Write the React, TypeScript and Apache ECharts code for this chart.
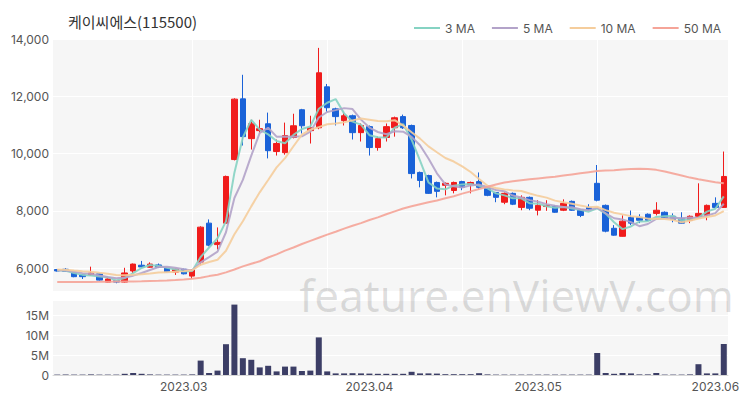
import React, { useEffect, useRef } from 'react';
import * as echarts from 'echarts';

const chartTitle = '케이씨에스(115500)';
const watermark = 'feature.enViewV.com';

// trading days per month (2023)
const febDays = [8, 9, 10, 13, 14, 15, 16, 17, 20, 21, 22, 23, 24, 27, 28];
const marDays = [2, 3, 6, 7, 8, 9, 10, 13, 14, 15, 16, 17, 20, 21, 22, 23, 24, 27, 28, 29, 30, 31];
const aprDays = [3, 4, 5, 6, 7, 10, 11, 12, 13, 14, 17, 18, 19, 20, 21, 24, 25, 26, 27, 28];
const mayDays = [2, 3, 4, 8, 9, 10, 11, 12, 15, 16, 17, 18, 19, 22, 23, 24, 25, 26, 29, 30, 31];
const junDays = [1, 2];

const opens = [5950, 5960, 5830, 5760, 5760, 5800, 5510, 5560, 5510, 5900,
  6100, 6030, 6110, 6000, 5860, 5960, 5720, 6210, 7570, 6820,
  7570, 9790, 11910, 10520, 10800, 11040, 10070, 10030, 10560, 11530,
  10800, 10900, 12330, 11560, 11150, 11320, 10730, 10940, 10210, 10560,
  10900, 11290, 10980, 9340, 9230, 8990, 8890, 8710, 9020, 8920,
  9020, 8780, 8640, 8300, 8610, 8120, 8470, 8020, 8150, 8160,
  8020, 8330, 8020, 8120, 8960, 8190, 7390, 7110, 7770, 7770,
  7880, 7910, 7950, 7810, 7740, 7670, 7810, 7840, 8260, 8120];
const closes = [5900, 5890, 5700, 5700, 5830, 5580, 5620, 5510, 5830, 6140,
  6040, 6140, 6030, 5870, 5960, 5800, 5930, 7430, 6800, 6900,
  9200, 11900, 10590, 11040, 10870, 10100, 10350, 10630, 10970, 10970,
  10900, 12820, 11600, 11290, 11320, 10730, 10980, 10210, 10520, 10940,
  11250, 10900, 9300, 9060, 8610, 8680, 8960, 8990, 8820, 8990,
  8820, 8540, 8470, 8610, 8230, 8470, 8090, 8190, 8190, 7950,
  8260, 8020, 7840, 8050, 8370, 7290, 7150, 7640, 7570, 7670,
  7670, 8020, 7740, 7700, 7570, 7810, 7910, 8190, 8120, 9200];
const lows = [5880, 5870, 5680, 5620, 5740, 5560, 5500, 5470, 5490, 5830,
  6020, 6010, 6000, 5850, 5760, 5780, 5620, 6100, 6760, 6650,
  7550, 9760, 10280, 10140, 10700, 9830, 9930, 9960, 10530, 10700,
  10350, 10850, 11460, 10980, 10980, 10490, 10420, 9930, 10100, 10420,
  10590, 10860, 9130, 8820, 8590, 8470, 8540, 8610, 8720, 8610,
  8750, 8510, 8300, 8230, 8200, 8020, 8020, 7840, 8000, 7930,
  7990, 8000, 7780, 8020, 8330, 7250, 7130, 7100, 7500, 7570,
  7650, 7840, 7720, 7600, 7550, 7570, 7780, 7670, 8100, 8100];
const highs = [5970, 6000, 5850, 5780, 6050, 5820, 5640, 5570, 6010, 6160,
  6250, 6200, 6160, 6020, 5980, 5980, 5950, 7460, 7700, 7420,
  9230, 11930, 12750, 11180, 11180, 11430, 10490, 11080, 11390, 11560,
  11320, 13690, 12430, 11600, 11430, 11360, 11050, 10980, 10590, 11050,
  11290, 11360, 11010, 9370, 9260, 9020, 8990, 9020, 9050, 9020,
  9340, 8800, 8660, 8640, 8640, 8540, 8500, 8370, 8370, 8190,
  8400, 8360, 8050, 8230, 9600, 8220, 7500, 7840, 8010, 7880,
  7910, 8300, 7980, 7910, 7950, 7840, 8960, 8220, 8470, 10070];
// volume in millions of shares
const volumesM = [0.1, 0.1, 0.1, 0.1, 0.15, 0.1, 0.1, 0.1, 0.3, 0.5,
  0.3, 0.15, 0.1, 0.1, 0.1, 0.1, 0.15, 3.6, 0.5, 1.1,
  7.7, 17.6, 4.2, 3.8, 1.9, 2.3, 0.9, 2.1, 2.1, 1.0,
  1.1, 9.4, 0.9, 0.4, 0.4, 0.45, 0.4, 0.35, 0.3, 0.3,
  0.3, 0.3, 0.8, 0.4, 0.4, 0.35, 0.2, 0.2, 0.2, 0.2,
  0.45, 0.15, 0.1, 0.1, 0.1, 0.1, 0.1, 0.1, 0.1, 0.1,
  0.1, 0.1, 0.1, 0.1, 5.5, 0.5, 0.3, 0.5, 0.4, 0.15,
  0.15, 0.5, 0.1, 0.1, 0.1, 0.15, 2.7, 0.4, 0.4, 7.75];
// 50-day moving average
const ma50 = [5510, 5512, 5514, 5516, 5518, 5520, 5524, 5528, 5532, 5536,
  5540, 5548, 5556, 5565, 5580, 5600, 5630, 5660, 5720, 5770,
  5850, 5950, 6060, 6150, 6240, 6370, 6480, 6610, 6720, 6840,
  6950, 7060, 7170, 7270, 7380, 7480, 7570, 7680, 7770, 7880,
  7980, 8080, 8160, 8230, 8300, 8360, 8440, 8510, 8600, 8680,
  8760, 8840, 8920, 8990, 9030, 9070, 9100, 9130, 9160, 9190,
  9230, 9270, 9310, 9350, 9390, 9410, 9420, 9440, 9460, 9470,
  9460, 9430, 9370, 9300, 9230, 9160, 9100, 9050, 9000, 8960];
// closes before the visible window (estimated), used for short moving averages
const priorCloses = [6000, 5980, 5950, 5990, 5960, 5940, 5920, 5950, 5930];

const priceGrid = [6000, 8000, 10000, 12000, 14000];
const volumeTicks = [0, 5, 10, 15];
const verticalGridIdx = [16, 32, 48, 64];

const maColors: Record<string, string> = {
  '3 MA': '#86d3c3',
  '5 MA': '#b3a3c9',
  '10 MA': '#f5cd9c',
  '50 MA': '#f5a498',
};

const UP = '#f01c1c';
const DOWN = '#1a62d8';

function buildDates() {
  const months: [number, number[]][] = [[2, febDays], [3, marDays], [4, aprDays], [5, mayDays], [6, junDays]];
  const out: string[] = [];
  months.forEach(([m, days]) => {
    days.forEach((d) => {
      out.push(`2023.${String(m).padStart(2, '0')}.${String(d).padStart(2, '0')}`);
    });
  });
  return out;
}

function movingAvg(n: number) {
  const all = priorCloses.concat(closes);
  const off = priorCloses.length;
  return closes.map((_, i) => {
    let s = 0;
    for (let k = 0; k < n; k++) s += all[off + i - k];
    return Math.round(s / n);
  });
}

export default function App() {
  const ref = useRef<HTMLDivElement>(null);
  useEffect(() => {
    if (!ref.current) return;
    const chart = echarts.init(ref.current, undefined, { renderer: 'svg' });
    const dates = buildDates();
    const monthStart = new Set<number>();
    dates.forEach((d, i) => {
      if (i > 0 && d.slice(0, 7) !== dates[i - 1].slice(0, 7)) monthStart.add(i);
    });
    const candleData = opens.map((o, i) => [o, closes[i], lows[i], highs[i]]);
    const ma3 = movingAvg(3);
    const ma5 = movingAvg(5);
    const ma10 = movingAvg(10);
    const font = 'Inter, "Noto Sans", sans-serif';
    const lineSeries = (name: string, data: number[]) => ({
      type: 'line',
      name,
      data,
      xAxisIndex: 0,
      yAxisIndex: 0,
      showSymbol: false,
      symbol: 'none',
      color: maColors[name],
      lineStyle: { width: 2, color: maColors[name], opacity: 0.9 },
      z: 3,
      silent: true,
    });
    chart.setOption({
      animation: false,
      backgroundColor: '#ffffff',
      title: {
        text: chartTitle,
        left: 63,
        top: 9,
        textStyle: { fontSize: 15, fontWeight: 'normal', color: '#333', fontFamily: '"Noto Sans CJK KR", sans-serif' },
      },
      legend: {
        right: 24,
        top: 17,
        icon: 'rect',
        itemWidth: 26,
        itemHeight: 2,
        itemGap: 17,
        data: ['3 MA', '5 MA', '10 MA', '50 MA'],
        textStyle: { fontSize: 12, color: '#555', fontFamily: font },
        selectedMode: false,
      },
      grid: [
        { left: 53, right: 22, top: 39, height: 252, show: true, backgroundColor: '#f6f6f6', borderWidth: 0 },
        { left: 53, right: 22, top: 300, height: 75, show: true, backgroundColor: '#f6f6f6', borderWidth: 0 },
      ],
      xAxis: [
        {
          type: 'category', gridIndex: 0, data: dates, boundaryGap: true,
          axisLine: { show: false }, axisTick: { show: false }, axisLabel: { show: false }, splitLine: { show: false },
        },
        {
          type: 'category', gridIndex: 1, data: dates, boundaryGap: true,
          axisLine: { show: true, lineStyle: { color: '#d8d8d8' } },
          axisTick: { show: false },
          splitLine: { show: false },
          axisLabel: {
            interval: (idx: number) => monthStart.has(idx),
            formatter: (v: string) => v.slice(0, 7),
            color: '#555', fontSize: 12, fontFamily: font, margin: 5,
          },
        },
      ],
      yAxis: [
        {
          type: 'value', gridIndex: 0, min: 5200, max: 14000, interval: 400,
          axisLine: { show: false }, axisTick: { show: false }, splitLine: { show: false },
          axisLabel: {
            formatter: (v: number) => (priceGrid.includes(v) ? v.toLocaleString('en-US') : ''),
            color: '#555', fontSize: 12, fontFamily: font, margin: 4,
          },
        },
        {
          type: 'value', gridIndex: 1, min: 0, max: 18.75, interval: 5,
          axisLine: { show: false }, axisTick: { show: false },
          splitLine: { show: true, lineStyle: { color: '#ffffff', width: 1 } },
          axisLabel: {
            formatter: (v: number) => (volumeTicks.includes(v) ? (v === 0 ? '0' : v + 'M') : ''),
            color: '#555', fontSize: 12, fontFamily: font, margin: 4,
          },
        },
      ],
      graphic: [
        {
          type: 'text',
          right: 16,
          top: 273,
          z: 100,
          silent: true,
          style: {
            text: watermark,
            font: '44px "Noto Sans", sans-serif',
            fill: 'rgba(0,0,0,0.12)',
          },
        },
      ],
      series: [
        {
          type: 'candlestick',
          name: 'price',
          xAxisIndex: 0,
          yAxisIndex: 0,
          data: candleData,
          barWidth: 6,
          z: 2,
          silent: true,
          itemStyle: { color: UP, color0: DOWN, borderColor: UP, borderColor0: DOWN, borderWidth: 1 },
          markLine: {
            z: 1,
            silent: true,
            symbol: 'none',
            label: { show: false },
            emphasis: { disabled: true },
            lineStyle: { color: '#ffffff', width: 1, type: 'solid' },
            data: [
              ...priceGrid.map((v) => ({ yAxis: v })),
              ...verticalGridIdx.map((i) => ({ xAxis: i })),
            ],
          },
        },
        lineSeries('3 MA', ma3),
        lineSeries('5 MA', ma5),
        lineSeries('10 MA', ma10),
        lineSeries('50 MA', ma50),
        {
          type: 'bar',
          name: 'volume',
          xAxisIndex: 1,
          yAxisIndex: 1,
          data: volumesM,
          barWidth: 6,
          silent: true,
          itemStyle: { color: '#3c3e66' },
        },
      ],
    });
    return () => chart.dispose();
  }, []);
  return <div ref={ref} style={{ position: 'fixed', left: 0, top: 0, width: 750, height: 400 }} />;
}
